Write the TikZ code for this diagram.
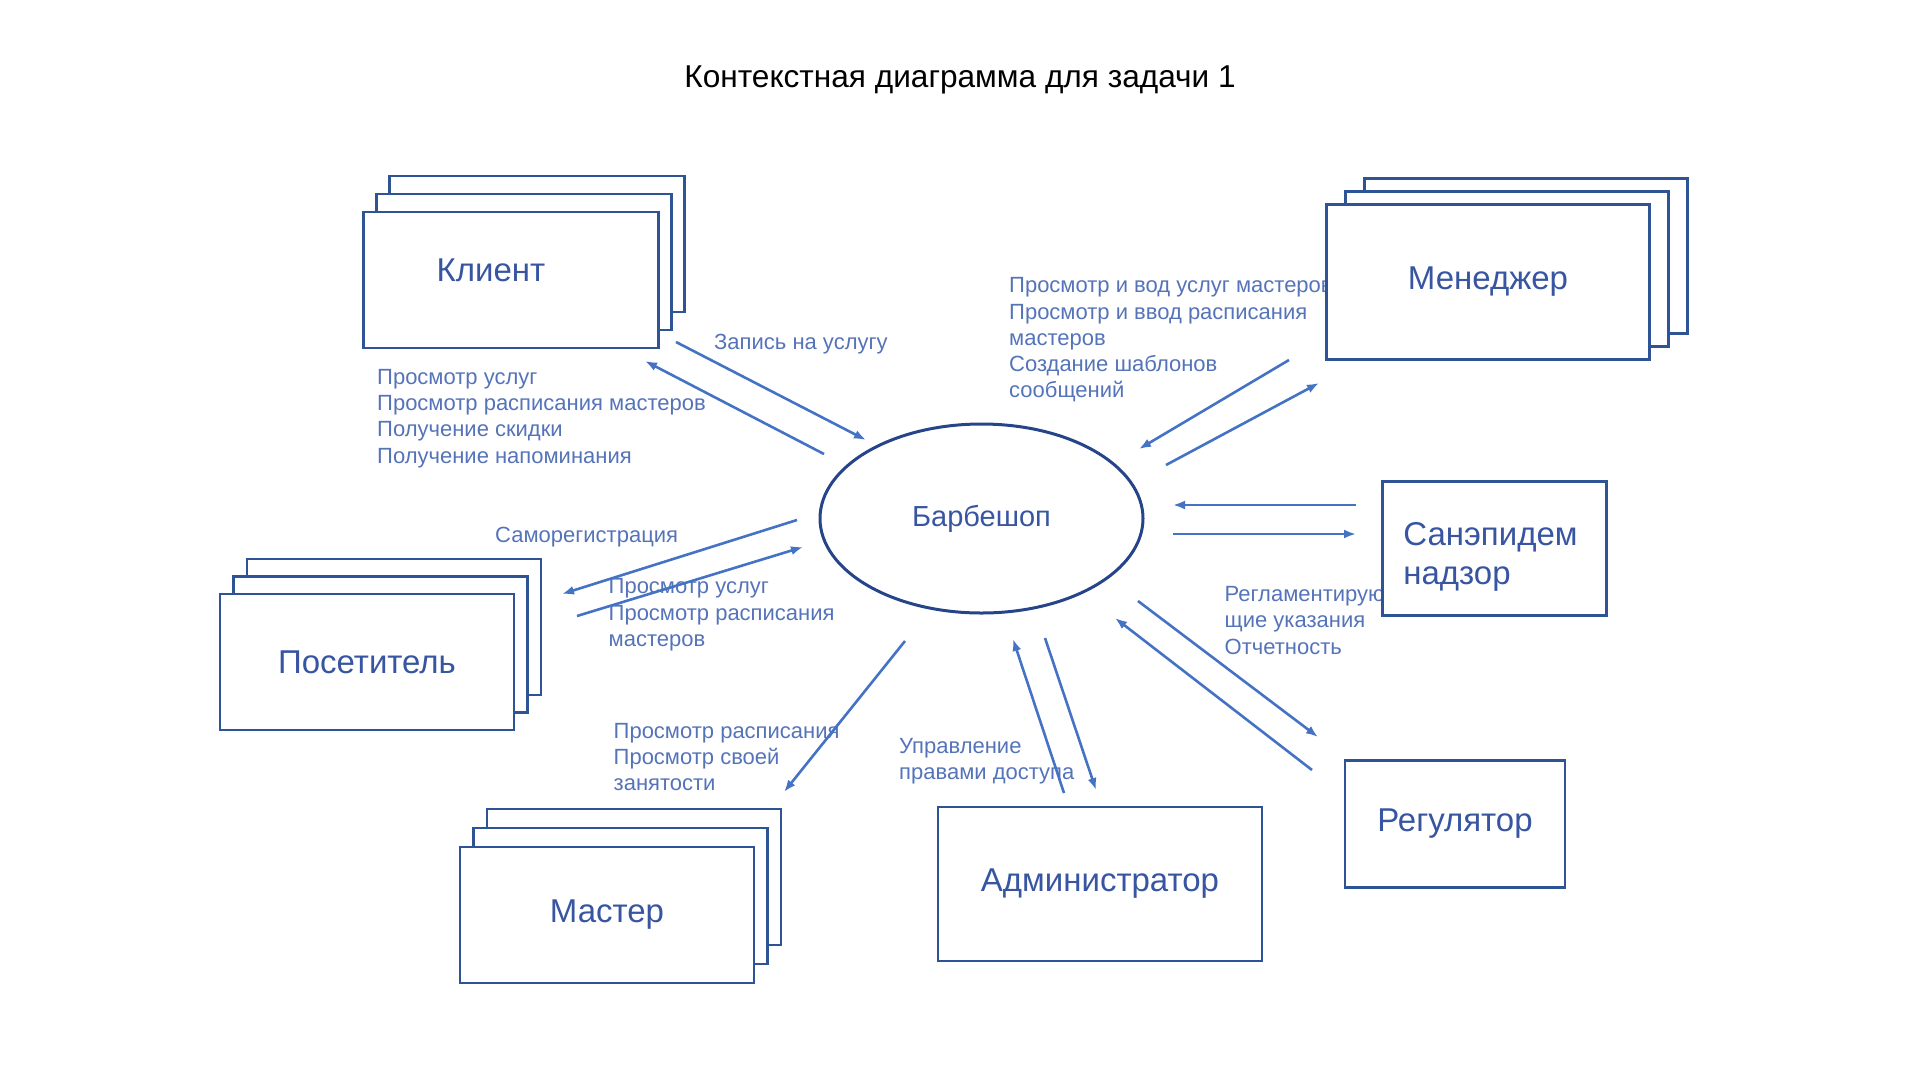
\documentclass[tikz,border=0pt]{standalone}
\usepackage{fontspec}
\setmainfont{Liberation Sans}
\usetikzlibrary{shapes, arrows.meta, shadows}

\definecolor{boxline}{RGB}{47,84,150}
\definecolor{shopline}{RGB}{38,68,138}
\definecolor{arrowblue}{RGB}{68,114,196}
\definecolor{textblue}{RGB}{55,85,160}
\definecolor{notetext}{RGB}{85,115,185}

\begin{document}
\begin{tikzpicture}[x=1pt, y=-1pt, >={Latex[length=12pt, width=9pt]},
        stack/.style n args={4}{block,
            general shadow={draw=boxline, fill=white, line width=2.6pt, shadow xshift=#3, shadow yshift=#4},
            general shadow={draw=boxline, fill=white, line width=2.6pt, shadow xshift=#1, shadow yshift=#2}}]
        \tikzstyle{block} = [rectangle, draw=boxline, line width=2.6pt, fill=white, text=textblue, font=\fontsize{33}{40}\selectfont, inner sep=0pt]
        \tikzstyle{inner} = [text=textblue, font=\fontsize{33}{39}\selectfont, inner sep=0pt]
        \tikzstyle{note} = [text=notetext, font=\fontsize{22}{26.3}\selectfont, align=left, anchor=west, inner sep=0pt]
        \tikzstyle{flow} = [->, draw=arrowblue, line width=2.6pt]

        \useasboundingbox (0,0) rectangle (1920,1080);

        \node [font=\fontsize{31.6}{38}\selectfont] (title) at (960,80) {Контекстная диаграмма для задачи 1};

        % labels first, the boxes hide what runs over
        \node [note] (bookNote) at (714,344) {Запись на услугу};
        \node [note] (clientNote) at (377,418.5) {Просмотр услуг\\Просмотр расписания мастеров\\Получение скидки\\Получение напоминания};
        \node [note] (managerNote) at (1009,340) {Просмотр и вод услуг мастеров\\Просмотр и ввод расписания\\мастеров\\Создание шаблонов\\сообщений};
        \node [note] (sanepidNote) at (1224.5,620.5) {Регламентирую\\щие указания\\Отчетность};
        \node [note] (adminNote) at (899,761) {Управление\\правами доступа};
        \node [note] (masterNote) at (613.5,757) {Просмотр расписания\\Просмотр своей\\занятости};
        \node [note] (selfNote) at (495,537) {Саморегистрация};
        \node [note] (visitorNote) at (608.5,615) {Просмотр услуг\\Просмотр расписания\\мастеров};

        \node [ellipse, draw=shopline, line width=3pt, minimum width=323pt, minimum height=189pt, inner sep=0pt, text=textblue, font=\fontsize{29}{35}\selectfont] (shop) at (981.5,518.5) {Барбешоп};

        \node [stack={13pt}{18pt}{26pt}{36pt}, minimum width=295pt, minimum height=136pt,
            label={[inner, xshift=-20pt, yshift=10pt]center:Клиент}] (client) at (511,280) {};
        \node [stack={19pt}{13pt}{38pt}{26pt}, minimum width=323pt, minimum height=155pt] (manager) at (1488,282) {Менеджер};
        \node [stack={13.5pt}{17.5pt}{27pt}{35pt}, minimum width=294pt, minimum height=136pt] (visitor) at (367,662) {Посетитель};
        \node [stack={13.5pt}{19pt}{27pt}{38pt}, minimum width=294pt, minimum height=136pt] (master) at (607,915) {Мастер};
        \node [block, minimum width=324pt, minimum height=154pt] (admin) at (1100,884) {Администратор};
        \node [block, minimum width=220pt, minimum height=127pt] (regulator) at (1455,824) {Регулятор};
        \node [block, minimum width=224pt, minimum height=134pt,
            label={[inner, align=left, anchor=west, yshift=-8pt]west:\hspace{22pt}Санэпидем\\\hspace{22pt}надзор}] (sanepid) at (1494.5,548.5) {};

        \foreach \name/\x/\y in {kIn1/676/342, kIn2/866/440, kOut1/824/454, kOut2/645/361,
                mIn1/1289/360, mIn2/1139/449, mOut1/1166/465, mOut2/1319/383,
                sIn1/1356/505, sIn2/1173/505, sOut1/1173/534, sOut2/1356/534,
                rOut1/1138/601, rOut2/1318/737, rIn1/1312/770, rIn2/1115/618,
                aIn1/1064/793, aIn2/1013/639, aOut1/1045/638, aOut2/1096/790,
                maOut1/905/641, maOut2/784/792,
                vOut1/797/520, vOut2/562/594, vIn1/577/616, vIn2/803/547}
            \coordinate (\name) at (\x,\y);

        \draw [flow] (kIn1) -- (kIn2);
        \draw [flow] (kOut1) -- (kOut2);
        \draw [flow] (mIn1) -- (mIn2);
        \draw [flow] (mOut1) -- (mOut2);
        \draw [flow] (sIn1) -- (sIn2);
        \draw [flow] (sOut1) -- (sOut2);
        \draw [flow] (rOut1) -- (rOut2);
        \draw [flow] (rIn1) -- (rIn2);
        \draw [flow] (aIn1) -- (aIn2);
        \draw [flow] (aOut1) -- (aOut2);
        \draw [flow] (maOut1) -- (maOut2);
        \draw [flow] (vOut1) -- (vOut2);
        \draw [flow] (vIn1) -- (vIn2);
\end{tikzpicture}
\end{document}
